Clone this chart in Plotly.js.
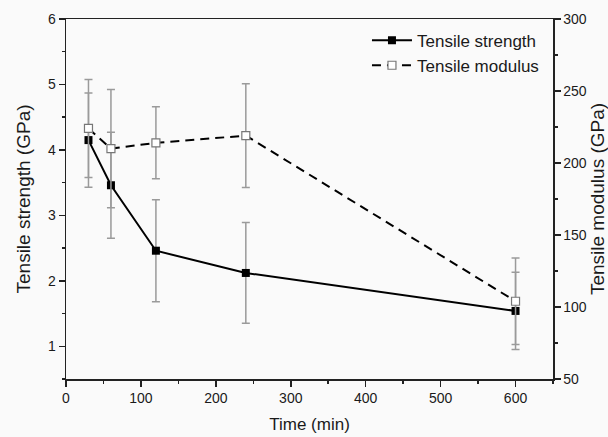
<!DOCTYPE html>
<html>
<head>
<meta charset="utf-8">
<script src="https://cdn.plot.ly/plotly-3.0.1.min.js"></script>
<style>html,body{margin:0;padding:0;background:#fafafa;}#chart{width:608px;height:437px;}</style>
</head>
<body>
<div id="chart"></div>
<script>
const time = [30, 60, 120, 240, 600];
const strength = [4.15, 3.46, 2.46, 2.12, 1.54];
const strengthErr = [0.72, 0.81, 0.78, 0.77, 0.59];
const modulus = [224, 210, 214, 219, 104];
const modulusErr = [34, 41, 25, 36, 30];

const font = "Liberation Sans, Arial, sans-serif";
const ink = "#1a1a1a";

const traces = [
  {
    x: time, y: strength, name: "Tensile strength", type: "scatter", mode: "lines+markers",
    line: {color: "#000", width: 2},
    marker: {symbol: "square", size: 8, color: "#000"},
    error_y: {type: "data", array: strengthErr, visible: true, color: "#9a9a9a", thickness: 1.5, width: 4},
    yaxis: "y"
  },
  {
    x: time, y: modulus, name: "Tensile modulus", type: "scatter", mode: "lines+markers",
    line: {color: "#000", width: 2, dash: "9px,6px"},
    marker: {symbol: "square", size: 8, color: "#fff", line: {color: "#777", width: 1.2}},
    error_y: {type: "data", array: modulusErr, visible: true, color: "#9a9a9a", thickness: 1.5, width: 4},
    yaxis: "y2"
  }
];

const axisCommon = {
  showline: true, linecolor: "#222", linewidth: 1.5,
  ticks: "outside", ticklen: 6, tickwidth: 1.5, tickcolor: "#222",
  showgrid: false, zeroline: false,
  tickfont: {family: font, size: 14, color: ink}
};

const layout = {
  width: 608, height: 437,
  margin: {l: 66, r: 55, t: 19, b: 58},
  paper_bgcolor: "#fafafa", plot_bgcolor: "#fafafa",
  font: {family: font, color: ink},
  showlegend: true,
  legend: {
    x: 0.618, y: 0.99, xanchor: "left", yanchor: "top",
    bgcolor: "rgba(0,0,0,0)", font: {family: font, size: 17, color: ink},
    itemwidth: 40, tracegroupgap: 0
  },
  xaxis: Object.assign({}, axisCommon, {
    range: [0, 650], dtick: 100, tick0: 0, mirror: true,
    minor: {ticks: "outside", ticklen: 3, tickwidth: 1.5, tickcolor: "#222", dtick: 50},
    title: {text: "Time (min)", font: {family: font, size: 17, color: ink}, standoff: 13},
    automargin: false
  }),
  yaxis: Object.assign({}, axisCommon, {
    range: [0.5, 6], dtick: 1, tick0: 0,
    minor: {ticks: "outside", ticklen: 3, tickwidth: 1.5, tickcolor: "#222", dtick: 0.5},
    title: {text: "Tensile strength (GPa)", font: {family: font, size: 19, color: ink}, standoff: 12},
    automargin: false
  }),
  yaxis2: Object.assign({}, axisCommon, {
    overlaying: "y", side: "right",
    range: [50, 300], dtick: 50, tick0: 0,
    minor: {ticks: "outside", ticklen: 3, tickwidth: 1.5, tickcolor: "#222", dtick: 25},
    title: {text: "Tensile modulus (GPa)", font: {family: font, size: 19, color: ink}, standoff: 17},
    automargin: false
  })
};

Plotly.newPlot("chart", traces, layout, {displayModeBar: false, staticPlot: true});
</script>
</body>
</html>
